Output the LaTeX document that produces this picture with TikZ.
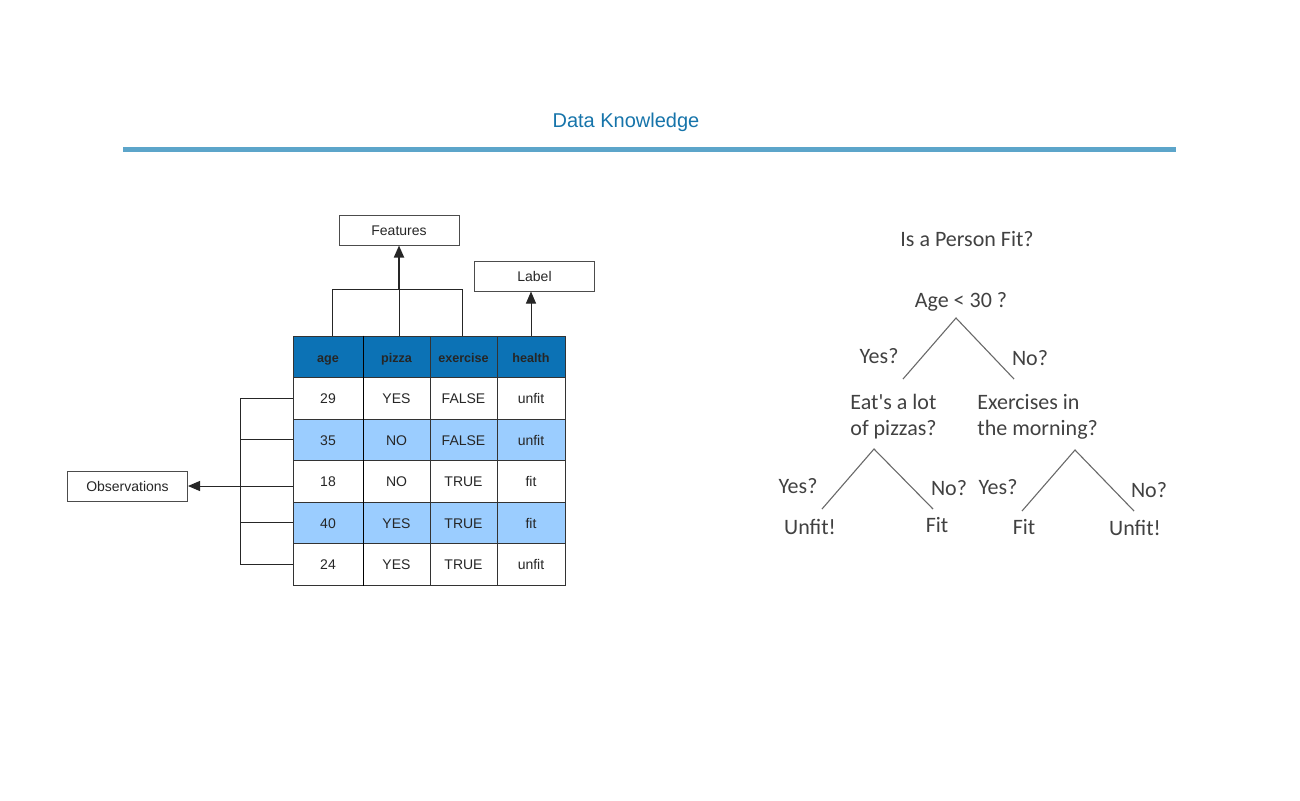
\documentclass[tikz,border=0pt]{standalone}
\usepackage{fontspec}
\setmainfont{Liberation Sans}
\newfontfamily\calib{Carlito}
\usetikzlibrary{arrows.meta}
\definecolor{titleblue}{RGB}{22,116,170}
\definecolor{rulecol}{RGB}{92,165,202}
\definecolor{hdrblue}{RGB}{12,114,181}
\definecolor{rowblue}{RGB}{155,205,255}
\definecolor{treegray}{RGB}{65,65,65}
\definecolor{treeline}{RGB}{105,105,105}
\tikzset{
  cellbox/.style={draw=black!80, line width=0.5pt, inner sep=0pt, minimum height=20.75pt, text height=1.6ex, text depth=0.6ex, font=\fontsize{7}{8}\selectfont, text=black!85},
  hdr/.style={cellbox, fill=hdrblue, font=\fontsize{6.3}{7}\selectfont\bfseries, text=black!85},
  lblbox/.style={draw=black!70, line width=0.5pt, minimum width=60pt, minimum height=15pt, inner sep=0pt, text height=1.6ex, text depth=0.6ex, font=\fontsize{7}{8}\selectfont, text=black!85},
  conn/.style={draw=black!85, line width=0.5pt},
  arr/.style={conn, -{Triangle[length=6pt,width=5pt]}},
  treetxt/.style={font=\calib\fontsize{11}{13}\selectfont, text=treegray, inner sep=0pt},
  branch/.style={draw=treeline, line width=0.55pt},
}
\begin{document}
\begin{tikzpicture}[x=0.5pt,y=-0.5pt]
\useasboundingbox (0,0) rectangle (1300,800);
% title
\node[font=\fontsize{10}{12}\selectfont, text=titleblue] (title) at (626,122) {Data Knowledge};
\draw[rulecol, line width=2.5pt] (123,149) -- (1176,149);

% table header
\node[hdr, minimum width=35pt]   (h1) at (328,356.75)   {age};
\node[hdr, minimum width=33.5pt] (h2) at (396.5,356.75) {pizza};
\node[hdr, minimum width=33.5pt] (h3) at (463.5,356.75) {exercise};
\node[hdr, minimum width=34pt]   (h4) at (531,356.75)   {health};
% rows
\foreach \r/\y/\a/\b/\c/\d/\f in {1/398.25/29/YES/FALSE/unfit/white, 2/439.75/35/NO/FALSE/unfit/rowblue, 3/481.25/18/NO/TRUE/fit/white, 4/522.75/40/YES/TRUE/fit/rowblue, 5/564.25/24/YES/TRUE/unfit/white}{
  \node[cellbox, fill=\f, minimum width=35pt]   (c\r1) at (328,\y)   {\a};
  \node[cellbox, fill=\f, minimum width=33.5pt] (c\r2) at (396.5,\y) {\b};
  \node[cellbox, fill=\f, minimum width=33.5pt] (c\r3) at (463.5,\y) {\c};
  \node[cellbox, fill=\f, minimum width=34pt]   (c\r4) at (531,\y)   {\d};
}
\draw[black, line width=0.8pt] (h1.north east) -- (c51.south east);

% Features / Label
\node[lblbox] (features) at (399,230) {Features};
\node[lblbox] (label) at (534.5,276) {Label};
\coordinate (fj) at (399,289);
\draw[conn] ([xshift=2pt]h1.north) |- (fj) -| ([xshift=-0.5pt]h3.north);
\draw[conn] ([xshift=1.5pt]h2.north) |- (fj);
\draw[arr, line width=0.9pt, -{Triangle[length=6pt,width=5pt]}] (fj) -- (features.south);
\draw[arr] (h4.north) -- (h4.north |- label.south);

% Observations
\node[lblbox] (obs) at (127.5,486) {Observations};
\coordinate (oj) at (240,486);
\draw[conn] (c11.west) -| (oj);
\draw[conn] (c21.west) -| (oj);
\draw[conn] (c41.west) -| (oj);
\draw[conn] (c51.west) -| (oj);
\draw[arr] (c31.west |- obs) -- (obs.east);

% decision tree
\node[treetxt] (q0) at (967,239) {Is a Person Fit?};
\node[treetxt] (age) at (961,302) {Age < 30 ?};
\coordinate (a0) at (956,318);
\coordinate (a0l) at (903,379);
\coordinate (a0r) at (1014,379);
\draw[branch] (a0l) -- (a0) -- (a0r);
\node[treetxt] (y0) at (879,356) {Yes?};
\node[treetxt] (n0) at (1030,358) {No?};
\node[treetxt, align=left, anchor=north west] (pz) at (850,394) {Eat's a lot\\of pizzas?};
\node[treetxt, align=left, anchor=north west] (ex) at (977,394) {Exercises in\\the morning?};
\coordinate (a1) at (874,449);
\coordinate (a1l) at (822,509);
\coordinate (a1r) at (933,509);
\draw[branch] (a1l) -- (a1) -- (a1r);
\coordinate (a2) at (1075,450);
\coordinate (a2l) at (1022,511);
\coordinate (a2r) at (1134,511);
\draw[branch] (a2l) -- (a2) -- (a2r);
\node[treetxt] (y1) at (798,486) {Yes?};
\node[treetxt] (n1) at (949,488) {No?};
\node[treetxt] (y2) at (998,487) {Yes?};
\node[treetxt] (n2) at (1149,490) {No?};
\node[treetxt] (l1) at (810,527) {Unfit!};
\node[treetxt] (l2) at (937,525) {Fit};
\node[treetxt] (l3) at (1024,527) {Fit};
\node[treetxt] (l4) at (1135,528) {Unfit!};
\end{tikzpicture}
\end{document}
